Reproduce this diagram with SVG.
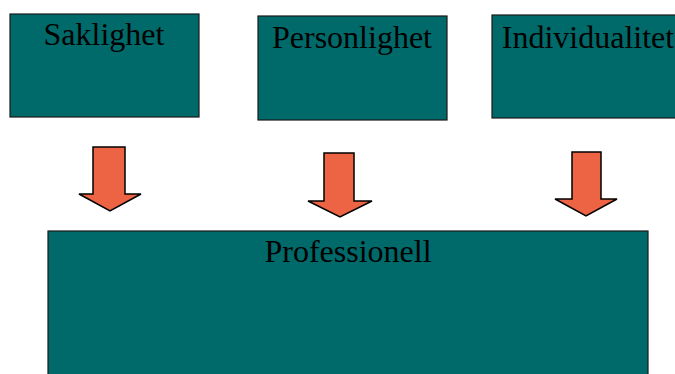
<svg xmlns="http://www.w3.org/2000/svg" width="675" height="374" viewBox="0 0 675 374">
  <style>
    .box { fill: #006A6A; stroke: #1a1a1a; stroke-width: 1.2; }
    .lbl { font-family: "Liberation Serif", "Times New Roman", serif; font-size: 32px; fill: #000; text-anchor: middle; }
    .arrow { fill: #EC6444; stroke: #000; stroke-width: 1.5; stroke-linejoin: miter; }
  </style>
  <rect width="675" height="374" fill="#fff"/>

  <g id="saklighet">
    <rect class="box" x="10" y="14" width="189" height="103"/>
    <text class="lbl" x="104" y="45">Saklighet</text>
  </g>
  <g id="personlighet">
    <rect class="box" x="258" y="16" width="189" height="104"/>
    <text class="lbl" x="352" y="48">Personlighet</text>
  </g>
  <g id="individualitet">
    <rect class="box" x="492" y="15" width="192" height="103"/>
    <text class="lbl" x="588" y="48">Individualitet</text>
  </g>
  <g id="professionell">
    <rect class="box" x="48" y="231" width="600" height="160"/>
    <text class="lbl" x="348" y="262">Professionell</text>
  </g>

  <g id="connectors">
    <polygon class="arrow" points="93,147 125,147 125,194 141,194 110,211 79,194 93,194"/>
    <polygon class="arrow" points="324,153 354,153 354,201 372,201 340,217 308,201 324,201"/>
    <polygon class="arrow" points="572,152 601,152 601,199 617,199 586,216 555,199 572,199"/>
  </g>
</svg>
